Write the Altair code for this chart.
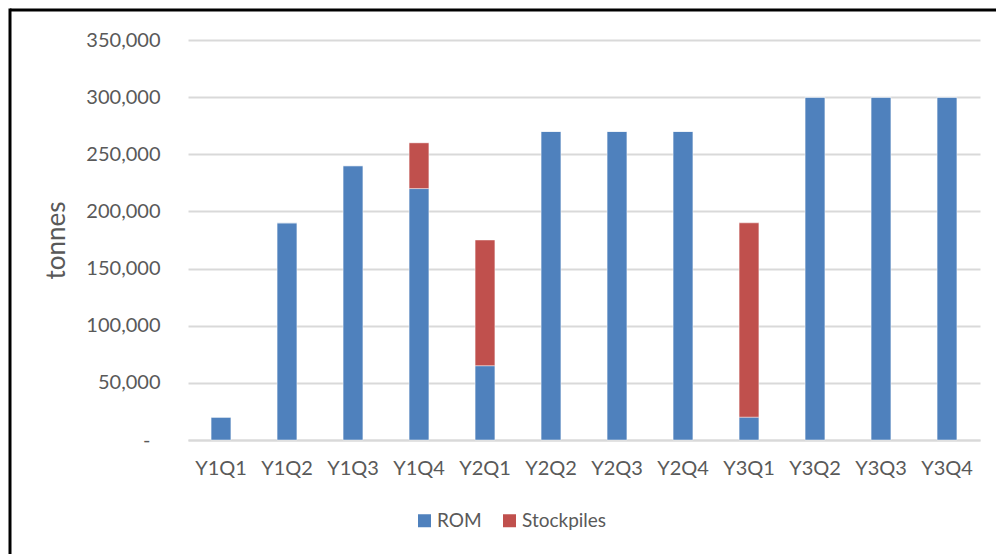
import altair as alt
import pandas as pd

quarters = ["Y1Q1", "Y1Q2", "Y1Q3", "Y1Q4", "Y2Q1", "Y2Q2", "Y2Q3", "Y2Q4",
            "Y3Q1", "Y3Q2", "Y3Q3", "Y3Q4"]
rom = [20000, 190000, 240000, 220000, 65000, 270000, 270000, 270000,
       20000, 300000, 300000, 300000]
stockpiles = [0, 0, 0, 40000, 110000, 0, 0, 0, 170000, 0, 0, 0]
series = ["ROM", "Stockpiles"]
colors = ["#4F81BD", "#C0504D"]
y_ticks = [0, 50000, 100000, 150000, 200000, 250000, 300000, 350000]

rows = []
for q, r, s in zip(quarters, rom, stockpiles):
    rows.append({"quarter": q, "series": "ROM", "tonnes": r, "ord": 0})
    rows.append({"quarter": q, "series": "Stockpiles", "tonnes": s, "ord": 1})
df = pd.DataFrame(rows)

FONT = "Lato"
TXT = "#595959"

bars = alt.Chart(df).mark_bar(stroke="#ffffff", strokeOpacity=0.45, strokeWidth=1).encode(
    x=alt.X("quarter:N", sort=quarters,
            scale=alt.Scale(paddingInner=0.7, paddingOuter=0.35),
            axis=alt.Axis(title=None, labelAngle=0, tickSize=0, labelPadding=18,
                          domainColor="#D9D9D9", domainWidth=2,
                          labelFont=FONT, labelFontSize=20, labelColor=TXT)),
    y=alt.Y("tonnes:Q", stack="zero",
            scale=alt.Scale(domain=[0, 350000], nice=False),
            axis=alt.Axis(title="tonnes", values=y_ticks, tickSize=0,
                          labelPadding={"condition": {"test": "datum.value == 0", "value": 38},
                                        "value": 28},
                          domain=False, gridColor="#D9D9D9", gridWidth=2,
                          labelExpr="datum.value == 0 ? '-' : format(datum.value, ',')",
                          labelFont=FONT, labelFontSize=20, labelColor=TXT,
                          titleFont=FONT, titleFontSize=26, titleFontWeight="normal",
                          titleColor=TXT, titlePadding=16)),
    color=alt.Color("series:N", sort=series,
                    scale=alt.Scale(domain=series, range=colors),
                    legend=alt.Legend(title=None, orient="none", direction="horizontal",
                                      legendX=227, legendY=471,
                                      symbolType="square", symbolSize=169,
                                      symbolStrokeWidth=0, symbolOpacity=1,
                                      labelFont=FONT, labelFontSize=19, labelColor=TXT,
                                      labelOffset=3, columnPadding=18)),
    order=alt.Order("ord:Q"),
)

frame_df = pd.DataFrame({"k": [0]})
frame_top = alt.Chart(frame_df).mark_rule(color="black", strokeWidth=3).encode(
    x=alt.value(-178), x2=alt.value(820), y=alt.value(-30))
frame_left = alt.Chart(frame_df).mark_rule(color="black", strokeWidth=3).encode(
    x=alt.value(-178), y=alt.value(-31.5), y2=alt.value(520))

chart = alt.layer(bars, frame_top, frame_left).properties(
    width=792, height=400,
    autosize=alt.AutoSizeParams(type="none"),
    padding={"left": 188, "top": 40, "right": 16, "bottom": 114},
    background="white",
).configure_view(stroke=None)

chart.save("out.html", embed_options={"renderer": "svg", "actions": False})
